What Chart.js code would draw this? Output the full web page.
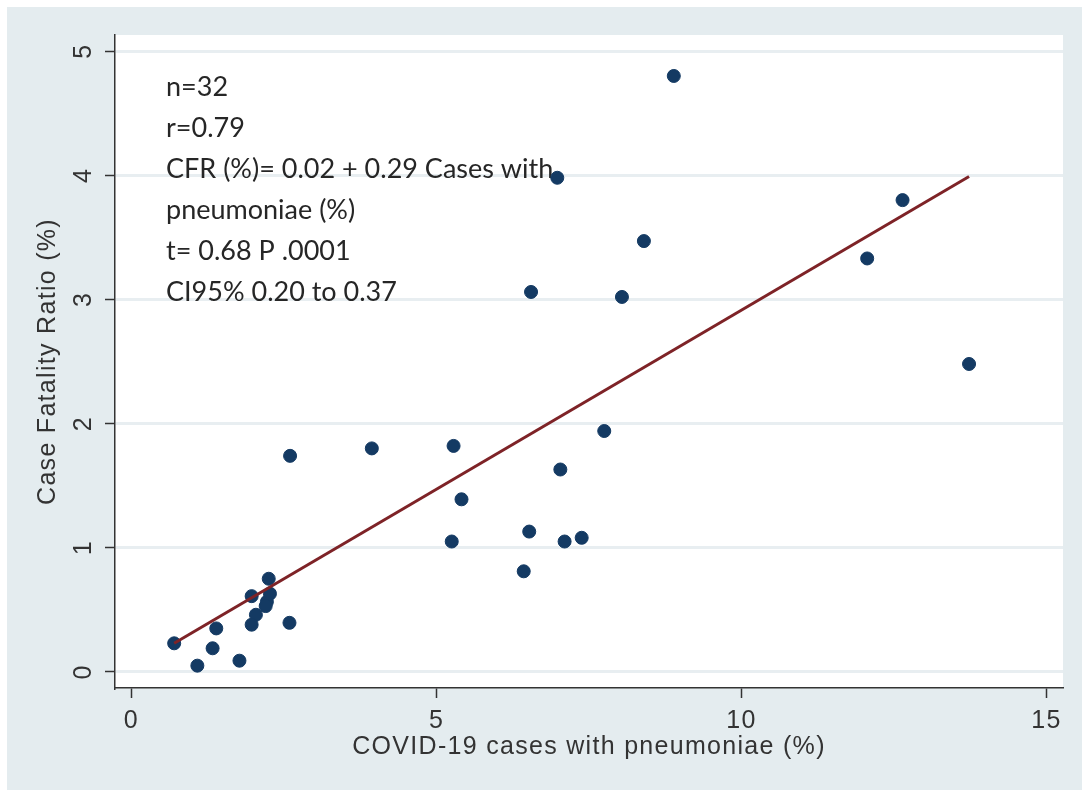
<!DOCTYPE html>
<html>
<head>
<meta charset="utf-8">
<script src="https://cdn.jsdelivr.net/npm/chart.js@4.4.1/dist/chart.umd.min.js"></script>
<style>
    html, body { margin: 0; padding: 0; background: #ffffff; }
    canvas { display: block; }
</style>
</head>
<body>
<canvas id="cfrChart" width="1082" height="790"></canvas>
<script>
// Countries: share of COVID-19 cases with pneumoniae (%) vs case fatality ratio (%)
const pneumoniaPct = [0.70, 1.08, 1.33, 1.39, 1.77, 1.97, 2.04, 1.97, 2.25, 2.22, 2.27, 2.20,
    2.59, 2.60, 3.94, 5.28, 5.41, 5.25, 6.52, 6.43, 7.03, 7.10, 7.38, 7.75,
    8.89, 6.98, 8.40, 6.55, 8.04, 12.64, 12.06, 13.73];
const fatalityPct = [0.23, 0.05, 0.19, 0.35, 0.09, 0.61, 0.46, 0.38, 0.75, 0.565, 0.63, 0.53,
    0.395, 1.74, 1.80, 1.82, 1.39, 1.05, 1.13, 0.81, 1.63, 1.05, 1.08, 1.94,
    4.80, 3.98, 3.47, 3.06, 3.02, 3.80, 3.33, 2.48];

// Fitted regression line end points
const fitX = [0.70, 13.73];
const fitY = [0.23, 3.99];

const xTickValues = [0, 5, 10, 15];
const xTickLabels = ['0', '5', '10', '15'];
const yTickValues = [0, 1, 2, 3, 4, 5];
const yTickLabels = ['0', '1', '2', '3', '4', '5'];

const statLines = [
    'n=32',
    'r=0.79',
    'CFR (%)= 0.02 + 0.29 Cases with',
    'pneumoniae (%)',
    't= 0.68 P .0001',
    'CI95% 0.20 to 0.37'
];

const axisFont = "'Liberation Sans', Arial, sans-serif";
const textColor = '#333333';

const scatterPoints = pneumoniaPct.map((x, i) => ({ x: x, y: fatalityPct[i] }));
const fitPoints = fitX.map((x, i) => ({ x: x, y: fitY[i] }));

// Paint the grey outer frame and the white plot region
const backgroundPlugin = {
    id: 'stataBackground',
    beforeDraw(chart) {
        const ctx = chart.ctx;
        const area = chart.chartArea;
        ctx.save();
        ctx.fillStyle = '#ffffff';
        ctx.fillRect(0, 0, chart.width, chart.height);
        ctx.fillStyle = '#e4ecef';
        ctx.fillRect(7, 7, chart.width - 7, chart.height - 7);
        ctx.fillStyle = '#ffffff';
        ctx.fillRect(area.left, area.top, area.right - area.left, area.bottom - area.top);
        ctx.restore();
        ctx.letterSpacing = '1.3px';
    }
};

// Stata writes y labels turned on their side
const yLabelsPlugin = {
    id: 'rotatedYLabels',
    afterDraw(chart) {
        const ctx = chart.ctx;
        const yScale = chart.scales.y;
        ctx.save();
        ctx.font = '25px ' + axisFont;
        ctx.fillStyle = textColor;
        ctx.textAlign = 'center';
        ctx.textBaseline = 'middle';
        yTickValues.forEach((v, i) => {
            const py = yScale.getPixelForValue(v);
            ctx.save();
            ctx.translate(84, py);
            ctx.rotate(-Math.PI / 2);
            ctx.fillText(yTickLabels[i], 0, 0);
            ctx.restore();
        });
        ctx.restore();
    }
};

// Regression summary in the upper left corner
const statsPlugin = {
    id: 'statsText',
    beforeDatasetsDraw(chart) {
        const ctx = chart.ctx;
        ctx.save();
        ctx.letterSpacing = '0px';
        ctx.font = "27px Lato, 'Open Sans', sans-serif";
        ctx.fillStyle = '#262626';
        ctx.textAlign = 'left';
        ctx.textBaseline = 'middle';
        statLines.forEach((line, i) => {
            ctx.fillText(line, 166, 87 + i * 41);
        });
        ctx.restore();
    }
};

const ctx = document.getElementById('cfrChart').getContext('2d');
const cfrChart = new Chart(ctx, {
    type: 'scatter',
    data: {
        datasets: [
            {
                label: 'Fitted values',
                data: fitPoints,
                showLine: true,
                borderColor: '#7e2327',
                borderWidth: 3,
                pointRadius: 0,
                fill: false
            },
            {
                label: 'Case Fatality Ratio (%)',
                data: scatterPoints,
                pointRadius: 6.5,
                pointBackgroundColor: '#143a63',
                pointBorderColor: '#143a63',
                pointBorderWidth: 1
            }
        ]
    },
    options: {
        responsive: false,
        animation: false,
        layout: {
            padding: { top: 35, right: 19, left: 0, bottom: 0 }
        },
        plugins: {
            legend: { display: false },
            tooltip: { enabled: false }
        },
        scales: {
            x: {
                type: 'linear',
                min: -0.27,
                max: 15.27,
                afterBuildTicks: scale => {
                    scale.ticks = xTickValues.map(v => ({ value: v }));
                },
                afterFit: scale => {
                    scale.height = 102;
                },
                grid: {
                    drawOnChartArea: false,
                    drawTicks: true,
                    tickLength: 10,
                    tickColor: '#333333',
                    tickWidth: 1.5
                },
                border: { display: true, color: '#333333', width: 1.5 },
                ticks: {
                    padding: 8,
                    maxRotation: 0,
                    color: textColor,
                    font: { size: 25, family: axisFont },
                    callback: (value, index) => xTickLabels[index]
                },
                title: {
                    display: true,
                    text: 'COVID-19 cases with pneumoniae (%)',
                    color: textColor,
                    font: { size: 25, family: axisFont },
                    padding: { top: 0, bottom: 28 }
                }
            },
            y: {
                type: 'linear',
                min: -0.13,
                max: 5.13,
                afterBuildTicks: scale => {
                    scale.ticks = yTickValues.map(v => ({ value: v }));
                },
                afterFit: scale => {
                    scale.width = 115;
                },
                grid: {
                    color: '#e8eef1',
                    lineWidth: 3,
                    drawTicks: true,
                    tickLength: 10,
                    tickColor: '#333333',
                    tickWidth: 1.5
                },
                border: { display: true, color: '#333333', width: 1.5 },
                ticks: { display: false },
                title: {
                    display: true,
                    text: 'Case Fatality Ratio (%)',
                    color: textColor,
                    font: { size: 25, family: axisFont },
                    padding: { top: 33, bottom: 0 }
                }
            }
        }
    },
    plugins: [backgroundPlugin, yLabelsPlugin, statsPlugin]
});
</script>
</body>
</html>
